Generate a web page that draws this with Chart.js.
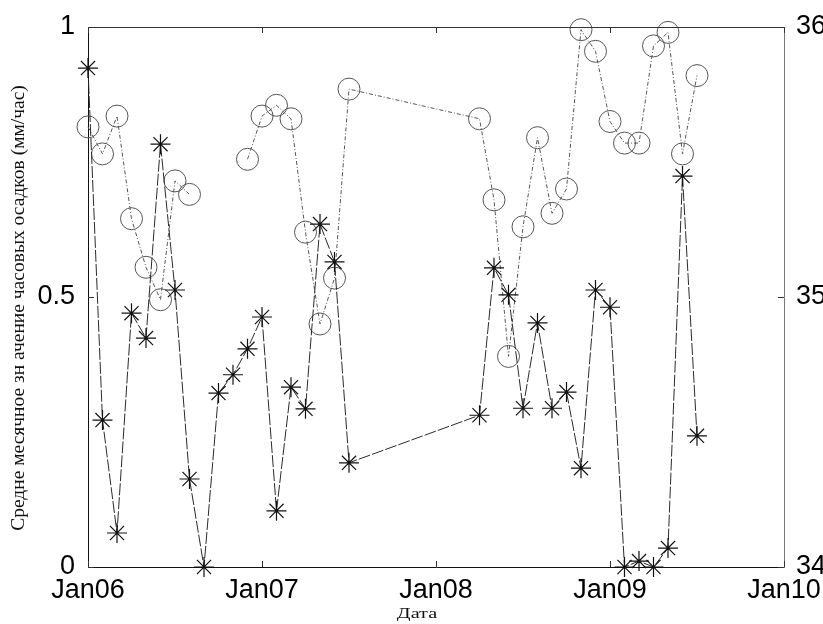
<!DOCTYPE html>
<html>
<head>
<meta charset="utf-8">
<script src="https://cdn.jsdelivr.net/npm/chart.js@4.4.1/dist/chart.umd.min.js"></script>
<style>
    html, body { margin: 0; padding: 0; background: #fff; }
    #wrap { width: 823px; height: 624px; }
</style>
</head>
<body>
<div id="wrap"><canvas id="rainChart" width="823" height="624"></canvas></div>
<script>
// Monthly means, month index counted from Jan 2006
const yearLabels = ['Jan06', 'Jan07', 'Jan08', 'Jan09', 'Jan10'];
const yearTicks = [0, 12, 24, 36, 48];

const months = [0, 1, 2, 3, 4, 5, 6, 7, 8, 9, 10, 11, 12, 13, 14, 15, 16, 17, 18,
                27, 28, 29, 30, 31, 32, 33, 34, 35, 36, 37, 38, 39, 40, 41, 42];

// mean hourly precipitation, mm/h (left axis)
const rainValues = [0.924, 0.272, 0.063, 0.470, 0.424, 0.783, 0.513, 0.163, 0.000, 0.322,
                    0.356, 0.404, 0.463, 0.104, 0.333, 0.293, 0.635, 0.565, 0.193,
                    0.281, 0.554, 0.504, 0.294, 0.452, 0.294, 0.324, 0.183, 0.513,
                    0.481, 0.000, 0.011, 0.000, 0.035, 0.724, 0.243];

// second series on the right axis (no data for Sep-Nov 2006)
const rightValues = [35.63, 35.53, 35.67, 35.29, 35.11, 34.99, 35.43, 35.38, null, null,
                     null, 35.51, 35.67, 35.71, 35.66, 35.24, 34.90, 35.07, 35.77,
                     35.66, 35.36, 34.78, 35.26, 35.59, 35.31, 35.40, 35.99, 35.91,
                     35.65, 35.57, 35.57, 35.93, 35.98, 35.53, 35.82];

const leftTicks = [0, 0.5, 1];
const rightTicks = [34, 35, 36];

const yTitle = 'Средне месячное зн ачение часовых осадков (мм/час)';
const xTitle = 'Дата';

const tickFont = { family: '"Liberation Sans", Arial, sans-serif', size: 27 };

// Box outline, inward tick marks and axis titles
const framePlugin = {
    id: 'frame',
    afterDraw(chart) {
        const ctx = chart.ctx;
        const a = chart.chartArea;
        const xs = chart.scales.x, yl = chart.scales.y, yr = chart.scales.y1;
        ctx.save();
        ctx.strokeStyle = '#333';
        ctx.lineWidth = 1;
        ctx.beginPath();
        ctx.moveTo(a.left, a.top + 0.5);
        ctx.lineTo(a.right, a.top + 0.5);
        yearTicks.forEach(t => {
            const px = Math.round(xs.getPixelForValue(t)) + 0.5;
            ctx.moveTo(px, a.bottom);
            ctx.lineTo(px, a.bottom - 6);
            ctx.moveTo(px, a.top);
            ctx.lineTo(px, a.top + 6);
        });
        leftTicks.forEach(t => {
            const py = Math.round(yl.getPixelForValue(t)) + 0.5;
            ctx.moveTo(a.left, py);
            ctx.lineTo(a.left + 6, py);
        });
        rightTicks.forEach(t => {
            const py = Math.round(yr.getPixelForValue(t)) + 0.5;
            ctx.moveTo(a.right, py);
            ctx.lineTo(a.right - 6, py);
        });
        ctx.stroke();

        ctx.fillStyle = '#111';
        ctx.font = '19.5px "Liberation Serif", "DejaVu Serif", serif';
        ctx.textAlign = 'center';
        ctx.textBaseline = 'middle';
        ctx.translate(19, 308);
        ctx.rotate(-Math.PI / 2);
        ctx.fillText(yTitle, 0, 0);
        ctx.restore();

        // x title is set slightly wide
        ctx.save();
        ctx.fillStyle = '#111';
        ctx.font = '15px "Liberation Serif", "DejaVu Serif", serif';
        ctx.textAlign = 'center';
        ctx.textBaseline = 'alphabetic';
        ctx.translate(417, 618);
        ctx.scale(1.35, 1);
        ctx.fillText(xTitle, 0, 0);
        ctx.restore();
    }
};

const ctx = document.getElementById('rainChart').getContext('2d');
new Chart(ctx, {
    type: 'line',
    data: {
        datasets: [{
            label: 'precip',
            data: months.map((m, i) => ({ x: m, y: rainValues[i] })),
            yAxisID: 'y',
            borderColor: '#2a2a2a',
            borderWidth: 1,
            borderDash: [12, 2],
            pointStyle: 'star',
            pointRadius: 10,
            pointBorderColor: '#111',
            pointBorderWidth: 1.2,
            pointBackgroundColor: '#111',
            fill: false,
            tension: 0,
            spanGaps: false,
            clip: false
        }, {
            label: 'right',
            data: months.map((m, i) => ({ x: m, y: rightValues[i] })),
            yAxisID: 'y1',
            borderColor: '#555',
            borderWidth: 1,
            borderDash: [4, 2, 1, 2],
            pointStyle: 'circle',
            pointRadius: 11,
            pointBorderColor: '#555',
            pointBorderWidth: 1,
            pointBackgroundColor: 'rgba(0,0,0,0)',
            fill: false,
            tension: 0,
            spanGaps: false,
            clip: false
        }]
    },
    options: {
        responsive: false,
        animation: false,
        layout: { padding: { top: 27, left: 0, right: 0, bottom: 0 } },
        plugins: {
            legend: { display: false },
            tooltip: { enabled: false }
        },
        scales: {
            x: {
                type: 'linear',
                min: 0,
                max: 48,
                grid: { display: false },
                border: { display: true, color: '#111', width: 1 },
                afterBuildTicks: scale => { scale.ticks = yearTicks.map(v => ({ value: v })); },
                ticks: {
                    font: tickFont,
                    color: '#000',
                    padding: -1,
                    maxRotation: 0,
                    autoSkip: false,
                    callback: v => yearLabels[yearTicks.indexOf(v)]
                },
                afterFit: scale => { scale.height = 57; }
            },
            y: {
                position: 'left',
                min: 0,
                max: 1,
                grid: { display: false },
                border: { display: true, color: '#111', width: 1 },
                afterBuildTicks: scale => { scale.ticks = leftTicks.map(v => ({ value: v })); },
                ticks: { font: tickFont, color: '#000', padding: 5, callback: v => String(v) },
                afterFit: scale => { scale.width = 88; }
            },
            y1: {
                position: 'right',
                min: 34,
                max: 36,
                grid: { display: false },
                border: { display: true, color: '#777', width: 1, dash: [2, 2] },
                afterBuildTicks: scale => { scale.ticks = rightTicks.map(v => ({ value: v })); },
                ticks: { font: tickFont, color: '#000', padding: 4, callback: v => String(v) },
                afterFit: scale => { scale.width = 39; }
            }
        }
    },
    plugins: [framePlugin]
});
</script>
</body>
</html>
